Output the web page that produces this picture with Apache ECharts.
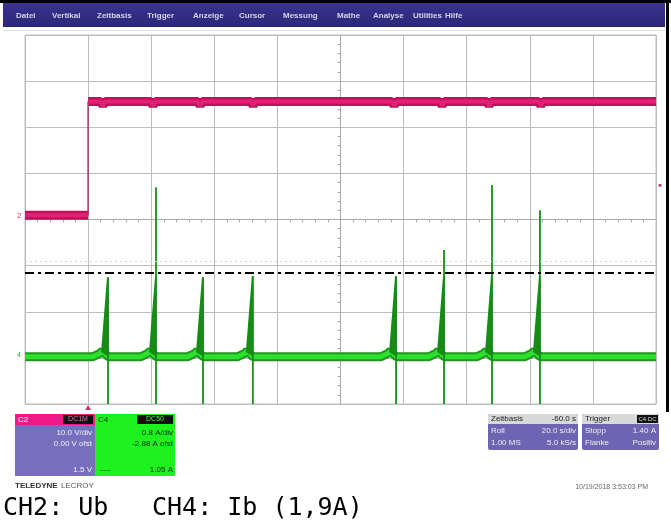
<!DOCTYPE html>
<html><head><meta charset="utf-8">
<script src="https://cdn.jsdelivr.net/npm/echarts@6/dist/echarts.min.js"></script>
<style>html,body{margin:0;padding:0;background:#fff}#c{width:671px;height:524px}</style>
</head><body><div id="c"></div>
<script>
// ---- data (time in s, 20 s/div, 0 = screen centre) ----
const menuItems = ['Datei','Vertikal','Zeitbasis','Trigger','Anzeige','Cursor','Messung','Mathe','Analyse','Utilities','Hilfe'];
const menuX = [16, 52, 97, 147, 193, 239, 283, 337, 373, 413, 445];

// CH2 (Ub), volts, 10 V/div
const ch2LowT = [-100, -80];
const ch2LowV = [0.9, 0.9];
const ch2HighT = [-80, -76, -75.3, -74.6, -60.1, -59.4, -58.7, -45.2, -44.5, -43.8, -28.4, -27.7, -27.0,
                  16.3, 17.0, 17.7, 31.5, 32.2, 32.9, 46.4, 47.1, 47.8, 62.8, 63.5, 64.2, 100];
const ch2HighV = [25.6, 25.6, 24.7, 25.6, 25.6, 24.7, 25.6, 25.6, 24.7, 25.6, 25.6, 24.7, 25.6,
                  25.6, 24.7, 25.6, 25.6, 24.7, 25.6, 25.6, 24.7, 25.6, 25.6, 24.7, 25.6, 25.6];
const ch2StepT = [-80, -80];
const ch2StepV = [0.9, 25.6];

// CH4 (Ib), amps
const ch4BaseT = [-100, -78.5, -76.2, -75.5, -73.6, -63.3, -61.0, -60.3, -58.4, -48.4, -46.1, -45.4, -43.5,
                  -32.6, -30.3, -29.6, -27.7, 12.8, 15.1, 15.8, 17.7, 28.0, 30.3, 31.0, 32.9,
                  43.2, 45.5, 46.2, 48.1, 58.4, 60.7, 61.4, 63.3, 100];
const ch4BaseV = [0.5, 0.5, 0.56, 0.6, 0.5, 0.5, 0.56, 0.6, 0.5, 0.5, 0.56, 0.6, 0.5,
                  0.5, 0.56, 0.6, 0.5, 0.5, 0.56, 0.6, 0.5, 0.5, 0.56, 0.6, 0.5,
                  0.5, 0.56, 0.6, 0.5, 0.5, 0.56, 0.6, 0.5, 0.5];
const spikeStart = [-75.9, -60.7, -45.8, -30.0, 15.4, 30.6, 45.8, 61.0];
const spikePeakT = [-74.0, -58.8, -43.9, -28.1, 17.3, 32.5, 47.7, 62.9];
const spikePeak  = [1.88, 1.88, 1.88, 1.90, 1.90, 1.90, 1.90, 1.90];
const spikeTop   = [1.88, 3.44, 1.88, 1.90, 1.90, 2.35, 3.48, 3.04];
const ch4Base = 0.5;
const ch4Low = -0.32;
const threshold = 1.96;   // 1,9 A level
const cursorLevel = 2.16;

const chart = echarts.init(document.getElementById('c'), null, {renderer: 'canvas'});
const zip = (a, b) => a.map((v, i) => [v, b[i]]);
const gridC = '#bdbdbd';
const FONT = 'Liberation Sans';

const graphics = [
  // outer frame + menu bar
  {type: 'rect', shape: {x: 0, y: 0, width: 671, height: 3}, style: {fill: '#000'}},
  {type: 'rect', shape: {x: 666, y: 0, width: 3, height: 412}, style: {fill: '#000'}},
  {type: 'rect', shape: {x: 3, y: 3, width: 662, height: 24},
    style: {fill: new echarts.graphic.LinearGradient(0, 0, 0, 1, [{offset: 0, color: '#3a3290'}, {offset: 1, color: '#2d2677'}])}},
  {type: 'line', shape: {x1: 3, y1: 30.5, x2: 665, y2: 30.5}, style: {stroke: '#dedede', lineWidth: 1}},
];
menuItems.forEach((m, i) => graphics.push({type: 'text', x: menuX[i], y: 16,
  style: {text: m, fill: '#d4d4e8', font: 'bold 8px ' + FONT, textVerticalAlign: 'middle'}}));

function txt(x, y, s, fill, align, size, weight) {
  return {type: 'text', x: x, y: y, z: 10,
    style: {text: s, fill: fill, font: (weight || 'normal') + ' ' + (size || 8) + 'px ' + FONT,
      textAlign: align || 'left', textVerticalAlign: 'middle'}};
}
graphics.push(
  // CH2 box
  {type: 'rect', shape: {x: 15, y: 414, width: 80, height: 11}, style: {fill: '#ee1a88'}},
  {type: 'rect', shape: {x: 63, y: 415, width: 30, height: 9}, style: {fill: '#111'}},
  {type: 'rect', shape: {x: 15, y: 425, width: 80, height: 51}, style: {fill: '#786ebd'}},
  txt(18, 419.5, 'C2', '#fff'), txt(78, 419.5, 'DC1M', '#f070b0', 'center', 7),
  txt(92, 433, '10.0 V/div', '#f0f0ff', 'right'), txt(92, 444, '0.00 V ofst', '#f0f0ff', 'right'),
  txt(92, 470, '1.5 V', '#f0f0ff', 'right'),
  // CH4 box
  {type: 'rect', shape: {x: 95, y: 414, width: 80, height: 62}, style: {fill: '#1ef21e'}},
  {type: 'rect', shape: {x: 137, y: 415, width: 36, height: 9}, style: {fill: '#111'}},
  txt(98, 419.5, 'C4', '#063006'), txt(155, 419.5, 'DC50', '#50f050', 'center', 7),
  txt(173, 433, '0.8 A/div', '#062006', 'right'), txt(173, 444, '-2.88 A ofst', '#062006', 'right'),
  txt(100, 470, '----', '#062006'), txt(173, 470, '1.05 A', '#062006', 'right'),
  // Zeitbasis box
  {type: 'rect', shape: {x: 488, y: 414, width: 90, height: 36, r: 2}, style: {fill: '#6d64b2'}},
  {type: 'rect', shape: {x: 488, y: 414, width: 90, height: 10, r: [2, 2, 0, 0]}, style: {fill: '#d8d8d8'}},
  txt(491, 419, 'Zeitbasis', '#222'), txt(576, 419, '-60.0 s', '#222', 'right'),
  txt(491, 431, 'Roll', '#eee'), txt(576, 431, '20.0 s/div', '#eee', 'right'),
  txt(491, 443, '1.00 MS', '#eee'), txt(576, 443, '5.0 kS/s', '#eee', 'right'),
  // Trigger box
  {type: 'rect', shape: {x: 582, y: 414, width: 77, height: 36, r: 2}, style: {fill: '#6d64b2'}},
  {type: 'rect', shape: {x: 582, y: 414, width: 77, height: 10, r: [2, 2, 0, 0]}, style: {fill: '#d8d8d8'}},
  {type: 'rect', shape: {x: 637, y: 415, width: 21, height: 8}, style: {fill: '#111'}},
  txt(585, 419, 'Trigger', '#222'), txt(647.5, 419, 'C4 DC', '#ddd', 'center', 6),
  txt(585, 431, 'Stopp', '#eee'), txt(656, 431, '1.40 A', '#eee', 'right'),
  txt(585, 443, 'Flanke', '#eee'), txt(656, 443, 'Positiv', '#eee', 'right'),
  // footer
  txt(15, 486, 'TELEDYNE', '#333', 'left', 8, 'bold'), txt(61, 486, 'LECROY', '#555', 'left', 8),
  txt(648, 487, '10/19/2018 3:53:03 PM', '#666', 'right', 7),
  // caption
  {type: 'text', x: 3, y: 508, style: {text: 'CH2: Ub', fill: '#000', font: '25px "DejaVu Sans Mono"', textVerticalAlign: 'middle'}},
  {type: 'text', x: 152, y: 508, style: {text: 'CH4: Ib (1,9A)', fill: '#000', font: '25px "DejaVu Sans Mono"', textVerticalAlign: 'middle'}}
);

const option = {
  animation: false,
  backgroundColor: '#fff',
  grid: {left: 25, top: 35, width: 631, height: 369, show: true, borderColor: gridC, borderWidth: 1, backgroundColor: '#fff'},
  xAxis: {type: 'value', min: -100, max: 100, interval: 20,
    axisLabel: {show: false}, axisTick: {show: false},
    axisLine: {show: true, onZero: true, onZeroAxisIndex: 0, lineStyle: {color: '#aaaaaa', width: 1}},
    minorTick: {show: true, splitNumber: 5, length: 3, lineStyle: {color: '#a8a8a8'}},
    splitLine: {show: true, lineStyle: {color: gridC, width: 1}}},
  yAxis: [
    {type: 'value', min: -40, max: 40, interval: 10,
      axisLabel: {show: false}, axisTick: {show: false},
      axisLine: {show: true, onZero: true, lineStyle: {color: '#aaaaaa', width: 1}},
      minorTick: {show: true, splitNumber: 5, length: 3, lineStyle: {color: '#a8a8a8'}},
      splitLine: {show: true, lineStyle: {color: gridC, width: 1}}},
    {type: 'value', min: ch4Low, max: 6.08, show: false, splitLine: {show: false}}
  ],
  graphic: graphics,
  series: [
    {name: 'CH4 edge', type: 'line', yAxisIndex: 1, data: zip(ch4BaseT, ch4BaseV), showSymbol: false, z: 2,
      lineStyle: {color: '#1c961c', width: 9},
      markLine: {silent: true, symbol: 'none', label: {show: false},
        data: [
          {yAxis: threshold, lineStyle: {color: '#000', width: 2, type: [9, 4, 3, 4]}},
          {yAxis: cursorLevel, lineStyle: {color: '#d4d4d4', width: 1, type: [2, 3]}}
        ]}},
    {name: 'CH4', type: 'line', yAxisIndex: 1, data: zip(ch4BaseT, ch4BaseV), showSymbol: false, z: 3,
      lineStyle: {color: '#2ee02e', width: 5}},
    {name: 'CH4 spikes', type: 'custom', yAxisIndex: 1, z: 4,
      encode: {x: [0, 1], y: [2, 3, 4, 5]},
      data: spikePeakT.map((t, i) => [spikeStart[i], t, spikePeak[i], spikeTop[i], ch4Base, ch4Low]),
      renderItem: function (params, api) {
        const pS = api.coord([api.value(0), api.value(4) + 0.08]);
        const pP = api.coord([api.value(1), api.value(2)]);
        const pE = api.coord([api.value(1), api.value(4)]);
        const pT = api.coord([api.value(1), api.value(3)]);
        const pL = api.coord([api.value(1), api.value(5)]);
        return {type: 'group', children: [
          {type: 'polygon', shape: {points: [pS, pP, [pP[0] + 1.5, pP[1]], [pE[0] + 1.5, pE[1]]]}, style: {fill: '#168c16'}},
          {type: 'line', shape: {x1: pT[0] + 1, y1: pT[1], x2: pL[0] + 1, y2: pL[1]}, style: {stroke: '#168c16', lineWidth: 1.8}}
        ]};
      }},
    {name: 'CH2 low', type: 'line', yAxisIndex: 0, data: zip(ch2LowT, ch2LowV), showSymbol: false, z: 5,
      lineStyle: {color: '#c0105a', width: 9}},
    {name: 'CH2 high', type: 'line', yAxisIndex: 0, data: zip(ch2HighT, ch2HighV), showSymbol: false, z: 5,
      lineStyle: {color: '#c0105a', width: 9}},
    {name: 'CH2 low c', type: 'line', yAxisIndex: 0, data: zip(ch2LowT, ch2LowV), showSymbol: false, z: 6,
      lineStyle: {color: '#e02276', width: 4}},
    {name: 'CH2 high c', type: 'line', yAxisIndex: 0, data: zip(ch2HighT, ch2HighV), showSymbol: false, z: 6,
      lineStyle: {color: '#e02276', width: 4}},
    {name: 'CH2 step', type: 'line', yAxisIndex: 0, data: zip(ch2StepT, ch2StepV), showSymbol: false, z: 6,
      lineStyle: {color: '#b0306a', width: 1.5}}
  ]
};
chart.setOption(option);

// channel / trigger markers placed through the axes
const p2 = chart.convertToPixel({xAxisIndex: 0, yAxisIndex: 0}, [-100, ch2LowV[0]]);
const p4 = chart.convertToPixel({xAxisIndex: 0, yAxisIndex: 1}, [-100, ch4Base]);
const pTrig = chart.convertToPixel({xAxisIndex: 0, yAxisIndex: 0}, [ch2StepT[0], -40]);
const pLvl = chart.convertToPixel({xAxisIndex: 0, yAxisIndex: 0}, [100, 7.4]);
chart.setOption({graphic: graphics.concat([
  {type: 'text', x: p2[0] - 8, y: p2[1], style: {text: '2', fill: '#e8287a', font: '8px ' + FONT, textVerticalAlign: 'middle'}},
  {type: 'text', x: p4[0] - 8, y: p4[1] - 2, style: {text: '4', fill: '#2ab02a', font: '7px ' + FONT, textVerticalAlign: 'middle'}},
  {type: 'polygon', shape: {points: [[pTrig[0], pTrig[1] + 1], [pTrig[0] - 3, pTrig[1] + 6], [pTrig[0] + 3, pTrig[1] + 6]]}, style: {fill: '#e8287a'}},
  {type: 'circle', shape: {cx: pLvl[0] + 4, cy: pLvl[1], r: 1.5}, style: {fill: '#c03070'}}
])});
</script></body></html>
